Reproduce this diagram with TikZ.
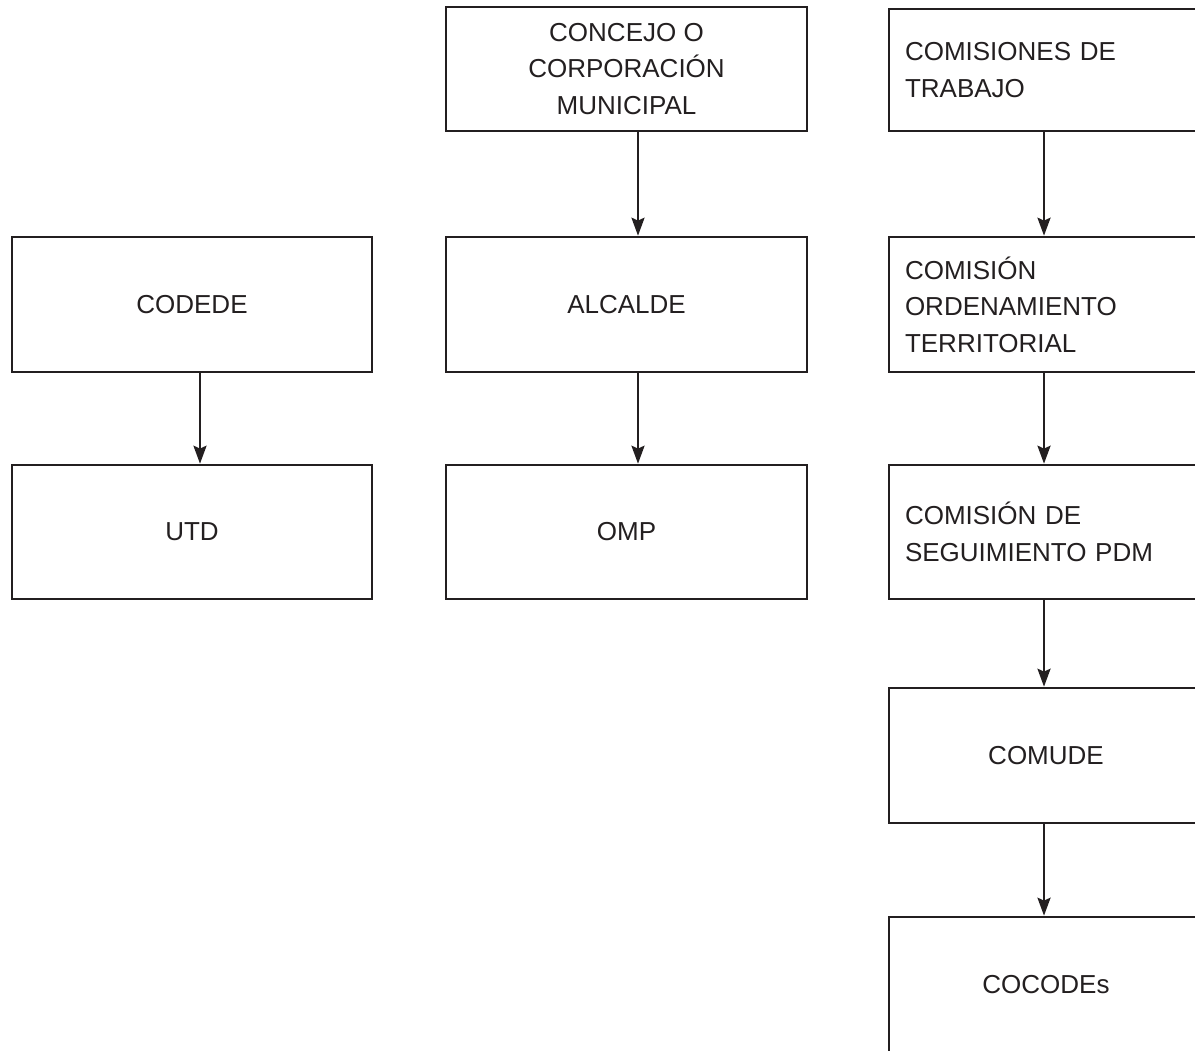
\documentclass[tikz,border=0pt]{standalone}
\usepackage{fontspec}
\setmainfont{Liberation Sans}
\usetikzlibrary{arrows.meta}
\definecolor{ink}{HTML}{231F20}
\begin{document}
\begin{tikzpicture}[x=1pt,y=-1pt,
  box/.style={draw=ink, line width=2.6pt, text=ink, font=\fontsize{26}{36.5}\selectfont, inner sep=0pt},
  cbox/.style={box, align=center},
  lbox/.style={box, align=left, text width=282pt, inner xsep=16pt, minimum width=314pt},
  arr/.style={draw=ink, line width=2.6pt, -{Stealth[length=18pt,width=13pt,inset=3pt]}}]
\useasboundingbox (0,0) rectangle (1195,1051);
% left column
\node[cbox, minimum width=360pt, minimum height=135pt] (codede) at (192,304.5) {CODEDE};
\node[cbox, minimum width=360pt, minimum height=134pt] (utd) at (192,532) {UTD};
% middle column
\node[cbox, minimum width=361pt, minimum height=124pt] (concejo) at (626.5,69) {CONCEJO O\\CORPORACIÓN\\MUNICIPAL};
\node[cbox, minimum width=361pt, minimum height=135pt] (alcalde) at (626.5,304.5) {ALCALDE};
\node[cbox, minimum width=361pt, minimum height=134pt] (omp) at (626.5,532) {OMP};
% right column
\node[lbox, minimum height=122pt] (comis) at (1046,70) {COMISIONES DE\\TRABAJO};
\node[lbox, minimum height=135pt] (cot) at (1046,304.5) {COMISIÓN\\ORDENAMIENTO\\TERRITORIAL};
\node[lbox, minimum height=134pt] (cseg) at (1046,532) {COMISIÓN DE\\SEGUIMIENTO PDM};
\node[cbox, minimum width=314pt, minimum height=135pt] (comude) at (1046,755.5) {COMUDE};
\node[cbox, minimum width=314pt, minimum height=135pt] (cocodes) at (1046,984.5) {COCODEs};
% connectors
\draw[arr] ([xshift=8pt]codede.south) -- ([xshift=8pt]utd.north);
\draw[arr] ([xshift=11.5pt]concejo.south) -- ([xshift=11.5pt]alcalde.north);
\draw[arr] ([xshift=11.5pt]alcalde.south) -- ([xshift=11.5pt]omp.north);
\draw[arr] ([xshift=-2pt]comis.south) -- ([xshift=-2pt]cot.north);
\draw[arr] ([xshift=-2pt]cot.south) -- ([xshift=-2pt]cseg.north);
\draw[arr] ([xshift=-2pt]cseg.south) -- ([xshift=-2pt]comude.north);
\draw[arr] ([xshift=-2pt]comude.south) -- ([xshift=-2pt]cocodes.north);
\end{tikzpicture}
\end{document}
